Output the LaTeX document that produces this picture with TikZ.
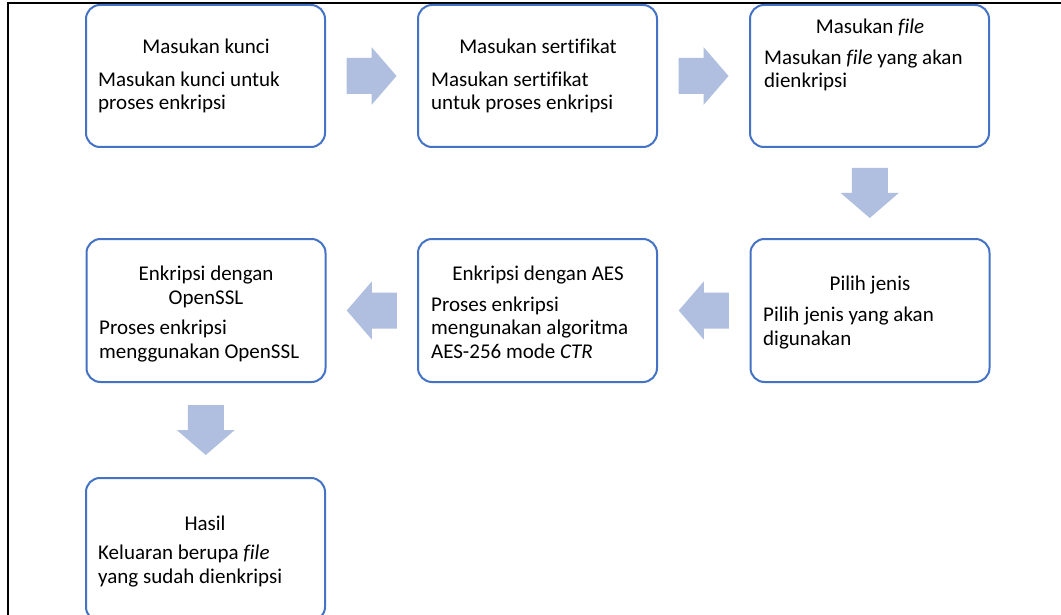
\documentclass[tikz,border=0pt]{standalone}
\usepackage{fontspec}
\setmainfont{Carlito}[Ligatures=NoCommon]
\usetikzlibrary{calc}
\definecolor{boxblue}{RGB}{68,114,196}
\definecolor{arrowfill}{RGB}{176,191,224}
\tikzset{
  flowbox/.style={draw=boxblue, line width=2pt, rounded corners=14pt, minimum width=239pt, minimum height=142pt, inner sep=0pt, fill=white},
  titletext/.style={anchor=base, inner sep=0pt, align=center, font=\fontsize{21}{23.5}\selectfont},
  bodytext/.style={anchor=base west, inner sep=0pt, align=left, font=\fontsize{21}{23.5}\selectfont},
  frameline/.style={draw=black, line width=1.6pt},
  blockarrow/.pic={\fill[arrowfill] (-25,-18) -- (0,-18) -- (0,-29) -- (25,0) -- (0,29) -- (0,18) -- (-25,18) -- cycle;}
}
\begin{document}
\begin{tikzpicture}[x=1pt,y=-1pt]
\useasboundingbox (0,0) rectangle (1061,615);
\fill[white] (0,0) rectangle (1061,615);
\coordinate (ftl) at (8,3);
\coordinate (ftr) at (1061,3);
\coordinate (fbl) at (8,615);
\draw[frameline] (ftr) -- (ftl) -- (fbl);

\node[flowbox] (b1) at (205.5,76) {};
\node[flowbox] (b2) at (537.5,76) {};
\node[flowbox] (b3) at (869.5,76) {};
\node[flowbox, minimum height=143pt] (b6) at (870,310.5) {};
\node[flowbox, minimum height=143pt] (b5) at (537.5,310.5) {};
\node[flowbox, minimum height=143pt] (b4) at (206,310.5) {};
\node[flowbox, minimum height=143pt] (b7) at (205.5,549.5) {};

% multi-line nodes: base anchor is the baseline of the last line
\node[titletext] (t1) at (206,54) {Masukan kunci};
\node[bodytext] (d1) at (98,110) {Masukan kunci untuk\\proses enkripsi};

\node[titletext] (t2) at (538,54) {Masukan sertifikat};
\node[bodytext] (d2) at (431,110) {Masukan sertifikat\\untuk proses enkripsi};

\node[titletext] (t3) at (870,34) {Masukan \textit{file}};
\node[bodytext] (d3) at (764,88) {Masukan \textit{file} yang akan\\dienkripsi};

\node[titletext] (t6) at (870,290) {Pilih jenis};
\node[bodytext] (d6) at (763,345) {Pilih jenis yang akan\\digunakan};

\node[titletext] (t5) at (538,280) {Enkripsi dengan AES};
\node[bodytext] (d5) at (431,358) {Proses enkripsi\\mengunakan algoritma\\AES-256 mode \textit{CTR}};

\node[titletext] (t4) at (206,304) {Enkripsi dengan\\OpenSSL};
\node[bodytext] (d4) at (99,358) {Proses enkripsi\\menggunakan OpenSSL};

\node[titletext] (t7) at (205,530) {Hasil};
\node[bodytext] (d7) at (98,583) {Keluaran berupa \textit{file}\\yang sudah dienkripsi};

\coordinate (a12) at ($(b1.east)!0.5!(b2.west)$);
\coordinate (a23) at ($(b2.east)!0.5!(b3.west)$);
\coordinate (a36) at ($(b3.south)!0.5!(b6.north)$);
\coordinate (a65) at ($(b6.west)!0.5!(b5.east)$);
\coordinate (a54) at ($(b5.west)!0.5!(b4.east)$);
\coordinate (a47) at ($(b4.south)!0.5!(b7.north)$);
\pic at (a12) {blockarrow};
\pic at (a23) {blockarrow};
\pic[rotate=-90] at (a36) {blockarrow};
\pic[rotate=180] at (a65) {blockarrow};
\pic[rotate=180] at (a54) {blockarrow};
\pic[rotate=-90] at (a47) {blockarrow};
\end{tikzpicture}
\end{document}
